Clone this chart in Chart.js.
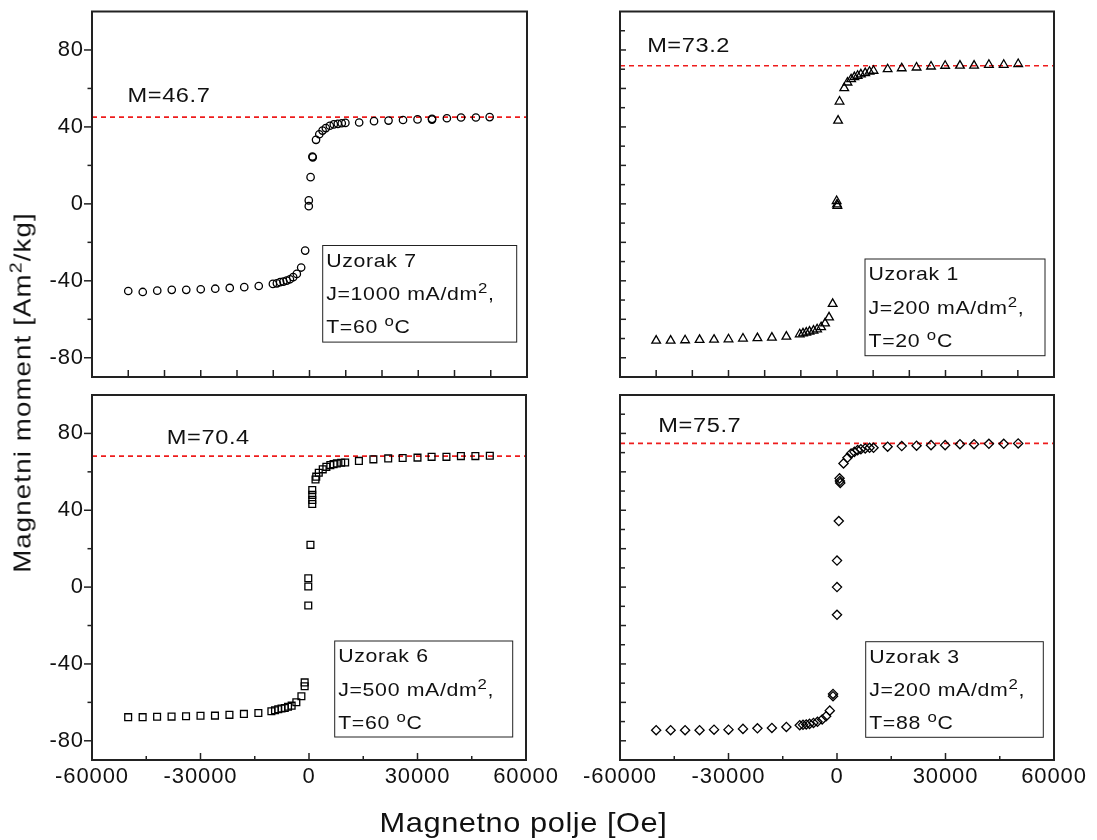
<!DOCTYPE html>
<html>
<head>
<meta charset="utf-8">
<title>Magnetni moment</title>
<script src="https://cdn.jsdelivr.net/npm/chart.js@4.4.1/dist/chart.umd.min.js"></script>
<style>
  html, body { margin: 0; padding: 0; background: #fff; overflow: hidden; }
  #wrap { position: relative; width: 1097px; height: 840px; }
  #wrap canvas { position: absolute; left: 0; top: 0; }
  .title { position: absolute; font-family: 'Liberation Sans', Arial, Helvetica, sans-serif; color: #111; white-space: nowrap; }
  #xTitle { left: 0; width: 1047px; top: 806px; line-height: 34px; text-align: center; font-size: 28px; letter-spacing: 0.5px; transform: scaleX(1.1); }
  #yTitle { left: -226px; top: 376px; width: 500px; line-height: 30px; text-align: center; font-size: 24px; letter-spacing: 1px; transform: rotate(-90deg) scaleX(1.15); }
  #yTitle span { position: relative; top: -9px; font-size: 17px; }
</style>
</head>
<body>
<div id="wrap">
  <canvas id="p7" width="1097" height="840"></canvas>
  <canvas id="p1" width="1097" height="840"></canvas>
  <canvas id="p6" width="1097" height="840"></canvas>
  <canvas id="p3" width="1097" height="840"></canvas>
  <div class="title" id="xTitle">Magnetno polje [Oe]</div>
  <div class="title" id="yTitle">Magnetni moment [Am<span>2</span>/kg]</div>
</div>
<script>
// Uzorak 7 (krugovi)
const FIELD_7 = [-50000, -46000, -42000, -38000, -34000, -30000, -26000, -22000, -18000, -14000,
  -10100, -9000, -8100, -7200, -6300, -5400, -4500, -3500, -2300, -1200,
  -200, -200, 300, 800, 900, 1800, 2700, 3600, 4500, 5600, 6700, 7800, 8900, 9900,
  13700, 17800, 21800, 25800, 29800, 33800, 33800, 37900, 41800, 45900, 49700];
const MOMENT_7 = [-45.3, -45.8, -45.1, -44.7, -44.7, -44.4, -44.1, -43.7, -43.3, -42.7,
  -41.6, -41.3, -40.7, -40.4, -39.9, -39.2, -38.1, -36.4, -33.1, -24.3,
  -1.2, 1.8, 13.9, 24.6, 24.2, 33.3, 36.2, 38.1, 39.4, 40.6, 41.3, 41.6, 41.9, 42.1,
  42.3, 43.0, 43.3, 43.6, 43.9, 44.2, 43.8, 44.5, 44.9, 44.9, 45.1];

// Uzorak 1 (trouglovi)
const FIELD_1 = [-50000, -46000, -42000, -38000, -34000, -30000, -26000, -22000, -18000, -14000,
  -10300, -9400, -8500, -7600, -6500, -5500, -4400, -3300, -2200, -1200,
  -100, 0, 100, 300, 700, 2000, 2900, 3900, 4800, 5700, 6600, 7800, 9000, 10100,
  14000, 17900, 22000, 26000, 29900, 34000, 37900, 42000, 46100, 50100];
const MOMENT_1 = [-71.1, -71.1, -70.9, -70.7, -70.6, -70.4, -70.0, -69.8, -69.5, -69.0,
  -67.8, -67.3, -66.9, -66.4, -65.9, -65.2, -64.1, -62.1, -59.0, -52.0,
  1.5, -0.3, -1.0, 43.3, 53.2, 60.2, 63.1, 64.8, 65.9, 66.6, 67.3, 68.0, 68.7, 69.2,
  70.0, 70.5, 70.9, 71.4, 71.8, 71.9, 71.9, 72.3, 72.3, 72.7];

// Uzorak 6 (kvadrati)
const FIELD_6 = [-50000, -46000, -42000, -38000, -34000, -30000, -26000, -22000, -18000, -14000,
  -10400, -9400, -8500, -7600, -6700, -5800, -4800, -3500, -2100, -1200, -1200,
  -200, -200, -200, 400, 900, 900, 900, 900, 1800, 2000, 2700, 3800, 4800, 5900, 6800, 7700, 8900, 10000,
  13800, 17800, 21900, 25900, 30000, 33900, 38000, 42000, 46000, 50000];
const MOMENT_6 = [-67.7, -67.7, -67.5, -67.4, -67.2, -67.0, -66.9, -66.5, -66.0, -65.5,
  -64.6, -64.1, -63.6, -63.2, -62.9, -62.3, -61.7, -59.9, -56.8, -51.6, -49.6,
  -9.6, 0.3, 4.6, 22.0, 50.5, 48.0, 45.4, 43.3, 56.0, 57.5, 59.5, 61.3, 62.6, 63.5, 64.0, 64.4, 64.7, 64.9,
  65.7, 66.5, 67.0, 67.2, 67.4, 67.8, 67.8, 68.2, 68.2, 68.4];

// Uzorak 3 (rombovi)
const FIELD_3 = [-50000, -46000, -42000, -38000, -34000, -30000, -26000, -22000, -18000, -14000,
  -10300, -9400, -8500, -7600, -6500, -5400, -4100, -3000, -2000, -1100, -1100,
  0, 0, 0, 500, 700, 800, 900, 1800, 2900, 3900, 4800, 5700, 6600, 7800, 9000, 10100,
  14000, 17900, 22000, 26000, 29900, 34000, 37900, 42000, 46100, 50100];
const MOMENT_3 = [-74.5, -74.5, -74.5, -74.5, -74.2, -74.2, -73.8, -73.5, -73.3, -72.8,
  -71.9, -71.7, -71.5, -71.2, -70.7, -70.1, -68.9, -67.2, -64.3, -56.8, -55.6,
  -14.4, 0, 13.8, 34.4, 56.6, 55.2, 54.2, 64.4, 67.3, 69.6, 70.4, 71.3, 71.8, 72.2, 72.5, 72.5,
  73.1, 73.4, 73.6, 73.9, 73.9, 74.4, 74.4, 74.6, 74.6, 74.8];

// zasićenje (crvena linija) i tekstovi
const M_LINE = [45.1, 71.8, 68.2, 74.8];
const M_TEXT = ['M=46.7', 'M=73.2', 'M=70.4', 'M=75.7'];
const SAMPLE_NAMES = ['Uzorak 7', 'Uzorak 1', 'Uzorak 6', 'Uzorak 3'];
const CURRENT_DENSITY = ['1000', '200', '500', '200'];
const TEMPERATURE = ['60', '20', '60', '88'];

// podeoci
const X_LABELS = [-60000, -30000, 0, 30000, 60000];
const X_TICKS_TOP = [-50000, -40000, -30000, -20000, -10000, 0, 10000, 20000, 30000, 40000, 50000];
const X_TICKS_BOTTOM = [-30000, 0, 30000];
const X_MINOR_BOTTOM = [-45000, -15000, 15000, 45000];
const Y_LABELS = [-80, -40, 0, 40, 80];
const Y_MINOR_LEFT = [-60, -20, 20, 60];
const Y_TICKS_RIGHT = [-80, -60, -40, -20, 0, 20, 40, 60, 80];
const Y_MINOR_RIGHT = [-70, -50, -30, -10, 10, 30, 50, 70, 90];

const FONT = "'Liberation Sans', Arial, Helvetica, sans-serif";
const W = 1097, H = 840;

Chart.defaults.font.family = FONT;

const PANELS = [
  { canvas: 'p7', field: FIELD_7, moment: MOMENT_7, style: 'circle', radius: 3.7,
    area: { left: 92, top: 11.5, right: 527, bottom: 377 }, left: true, bottom: false,
    mAt: { x: -50200, y: 55.8 }, box: { dx: 230.7, dy: 234, w: 194, h: 96.6 } },
  { canvas: 'p1', field: FIELD_1, moment: MOMENT_1, style: 'triangle', radius: 5,
    area: { left: 620, top: 11.5, right: 1054, bottom: 377 }, left: false, bottom: false,
    mAt: { x: -52500, y: 81.8 }, box: { dx: 245, dy: 247.5, w: 180, h: 96.7 } },
  { canvas: 'p6', field: FIELD_6, moment: MOMENT_6, style: 'rect', radius: 4.8,
    area: { left: 92, top: 395, right: 526, bottom: 760 }, left: true, bottom: true,
    mAt: { x: -39300, y: 77.6 }, box: { dx: 242.7, dy: 246, w: 178, h: 96 } },
  { canvas: 'p3', field: FIELD_3, moment: MOMENT_3, style: 'rectRot', radius: 4.6,
    area: { left: 620, top: 395, right: 1054, bottom: 760 }, left: false, bottom: true,
    mAt: { x: -49400, y: 83.4 }, box: { dx: 245.7, dy: 246.7, w: 177.6, h: 95.6 } }
];

// tekst malo razvučen po širini, kao na originalu
function drawParts(ctx, parts, x, y, sx) {
  ctx.save();
  ctx.translate(x, y);
  ctx.scale(sx, 1);
  let cx = 0;
  parts.forEach(p => {
    ctx.font = (p.sup ? '15px ' : (p.size || 19) + 'px ') + FONT;
    ctx.fillText(p.t, cx, p.sup ? -7 : 0);
    cx += ctx.measureText(p.t).width;
  });
  ctx.restore();
}

function line(ctx, x1, y1, x2, y2) {
  ctx.beginPath();
  ctx.moveTo(x1, y1);
  ctx.lineTo(x2, y2);
  ctx.stroke();
}

const panelDecor = {
  id: 'panelDecor',
  beforeDraw(chart) {
    chart.ctx.letterSpacing = '0.9px';
  },
  afterDraw(chart, args, opts) {
    const p = opts.panel;
    const i = opts.index;
    const { ctx, chartArea: a } = chart;
    const x = chart.scales.x, y = chart.scales.y;
    ctx.save();
    ctx.letterSpacing = '0px';
    ctx.strokeStyle = '#222';

    // podeoci
    ctx.lineWidth = 1.5;
    if (p.left) {
      Y_LABELS.forEach(v => line(ctx, a.left - 8, y.getPixelForValue(v), a.left, y.getPixelForValue(v)));
      Y_MINOR_LEFT.forEach(v => line(ctx, a.left - 4.5, y.getPixelForValue(v), a.left, y.getPixelForValue(v)));
    } else {
      Y_TICKS_RIGHT.forEach(v => line(ctx, a.left, y.getPixelForValue(v), a.left + 6, y.getPixelForValue(v)));
      Y_MINOR_RIGHT.forEach(v => line(ctx, a.left, y.getPixelForValue(v), a.left + 5, y.getPixelForValue(v)));
    }
    if (p.bottom) {
      X_TICKS_BOTTOM.forEach(v => line(ctx, x.getPixelForValue(v), a.bottom, x.getPixelForValue(v), a.bottom - 7));
      X_MINOR_BOTTOM.forEach(v => line(ctx, x.getPixelForValue(v), a.bottom, x.getPixelForValue(v), a.bottom - 4));
    } else {
      X_TICKS_TOP.forEach(v => line(ctx, x.getPixelForValue(v), a.bottom, x.getPixelForValue(v), a.bottom - 7));
    }

    // okvir
    ctx.lineWidth = 2;
    ctx.strokeRect(a.left, a.top, a.right - a.left, a.bottom - a.top);

    // M= tekst
    ctx.fillStyle = '#111';
    ctx.textBaseline = 'middle';
    ctx.textAlign = 'left';
    ctx.letterSpacing = '0.5px';
    drawParts(ctx, [{ t: M_TEXT[i], size: 20 }], x.getPixelForValue(p.mAt.x), y.getPixelForValue(p.mAt.y), 1.18);

    // legenda
    const bx = a.left + p.box.dx, by = a.top + p.box.dy;
    ctx.lineWidth = 1;
    ctx.strokeStyle = '#222';
    ctx.strokeRect(bx, by, p.box.w, p.box.h);
    ctx.textBaseline = 'alphabetic';
    ctx.letterSpacing = '0.6px';
    drawParts(ctx, [{ t: SAMPLE_NAMES[i] }], bx + 3.5, by + 21, 1.12);
    drawParts(ctx, [{ t: 'J=' + CURRENT_DENSITY[i] + ' mA/dm' }, { t: '2', sup: true }, { t: ',' }], bx + 3.5, by + 54.5, 1.12);
    drawParts(ctx, [{ t: 'T=' + TEMPERATURE[i] + ' ' }, { t: 'o', sup: true }, { t: 'C' }], bx + 3.5, by + 87.5, 1.12);
    ctx.restore();
  }
};

PANELS.forEach((p, i) => {
  const yWidth = p.left ? p.area.left : 0;
  const xHeight = p.bottom ? 40 : 0;
  const ctx = document.getElementById(p.canvas).getContext('2d');
  new Chart(ctx, {
    type: 'scatter',
    data: {
      datasets: [
        {
          label: SAMPLE_NAMES[i],
          data: p.field.map((f, k) => ({ x: f, y: p.moment[k] })),
          pointStyle: p.style,
          pointRadius: p.radius,
          pointHoverRadius: p.radius,
          borderColor: '#000',
          backgroundColor: 'rgba(0,0,0,0)',
          borderWidth: 1.3
        },
        {
          label: M_TEXT[i],
          data: [{ x: -60000, y: M_LINE[i] }, { x: 60000, y: M_LINE[i] }],
          showLine: true,
          pointRadius: 0,
          borderColor: '#ee1c1c',
          borderWidth: 1.6,
          borderDash: [5, 4],
          fill: false
        }
      ]
    },
    options: {
      responsive: false,
      animation: false,
      events: [],
      layout: {
        padding: {
          left: p.area.left - yWidth,
          top: p.area.top,
          right: W - p.area.right,
          bottom: H - p.area.bottom - xHeight
        }
      },
      plugins: {
        legend: { display: false },
        tooltip: { enabled: false },
        panelDecor: { panel: p, index: i }
      },
      scales: {
        x: {
          type: 'linear',
          min: -60000,
          max: 60000,
          display: p.bottom,
          grid: { display: false, drawTicks: false },
          border: { display: false },
          ticks: { padding: 4, color: '#111', font: { size: 22 }, maxRotation: 0, autoSkip: false, callback: v => String(v) },
          afterBuildTicks: ax => { ax.ticks = X_LABELS.map(v => ({ value: v })); },
          afterFit: ax => {
            ax.height = xHeight;
            ax.paddingLeft = 0; ax.paddingRight = 0; ax.paddingTop = 0; ax.paddingBottom = 0;
          }
        },
        y: {
          type: 'linear',
          min: -90,
          max: 100,
          display: p.left,
          grid: { display: false, drawTicks: false },
          border: { display: false },
          ticks: { padding: 8, color: '#111', font: { size: 22 }, autoSkip: false, callback: v => String(v) },
          afterBuildTicks: ax => { ax.ticks = Y_LABELS.map(v => ({ value: v })); },
          afterFit: ax => {
            ax.width = yWidth;
            ax.paddingLeft = 0; ax.paddingRight = 0; ax.paddingTop = 0; ax.paddingBottom = 0;
          }
        }
      }
    },
    plugins: [panelDecor]
  });
});
</script>
</body>
</html>
